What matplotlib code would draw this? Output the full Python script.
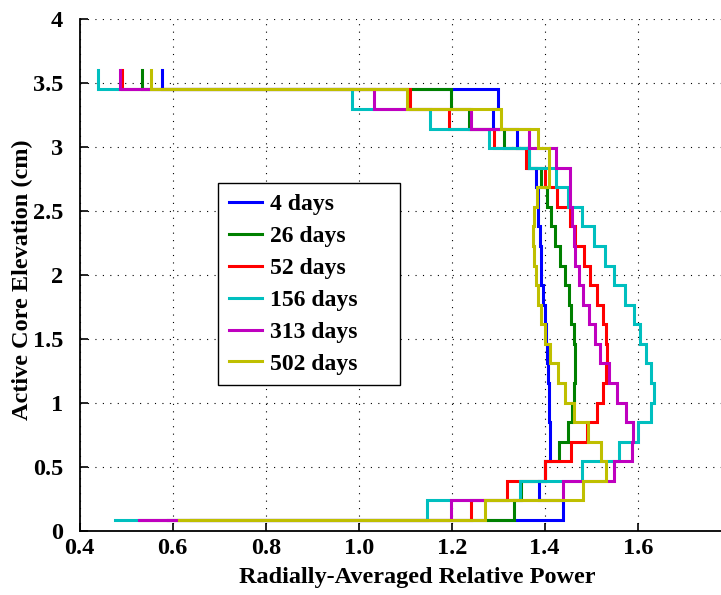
import numpy as np
import matplotlib
matplotlib.use("Agg")
import matplotlib.pyplot as plt

# Elevation mesh edges (cm), top to bottom
elev_edges = [3.600, 3.447, 3.294, 3.141, 2.989, 2.836, 2.683, 2.530, 2.377, 2.224,
              2.071, 1.918, 1.766, 1.613, 1.460, 1.307, 1.154, 1.001, 0.848, 0.695,
              0.542, 0.390, 0.237, 0.084]

labels = ["4 days", "26 days", "52 days", "156 days", "313 days", "502 days"]

p_4 = [0.578, 1.300, 1.289, 1.340, 1.362, 1.381, 1.385, 1.386, 1.389, 1.391, 1.393, 1.397,
       1.401, 1.403, 1.406, 1.408, 1.409, 1.410, 1.411, 1.411, 1.400, 1.388, 1.440, 0.640]
p_26 = [0.533, 1.198, 1.238, 1.313, 1.367, 1.391, 1.404, 1.413, 1.423, 1.433, 1.444, 1.452,
        1.457, 1.462, 1.465, 1.465, 1.462, 1.459, 1.451, 1.430, 1.400, 1.350, 1.335, 0.590]
p_52 = [0.491, 1.110, 1.195, 1.292, 1.360, 1.401, 1.427, 1.454, 1.465, 1.484, 1.497, 1.513,
        1.526, 1.532, 1.534, 1.532, 1.525, 1.512, 1.492, 1.457, 1.401, 1.318, 1.241, 0.530]
p_156 = [0.440, 0.985, 1.153, 1.281, 1.367, 1.424, 1.451, 1.480, 1.505, 1.529, 1.550, 1.572,
         1.591, 1.605, 1.618, 1.629, 1.635, 1.628, 1.601, 1.560, 1.480, 1.347, 1.146, 0.476]
p_313 = [0.486, 1.033, 1.241, 1.366, 1.425, 1.454, 1.455, 1.458, 1.463, 1.466, 1.473, 1.482,
         1.495, 1.508, 1.520, 1.538, 1.555, 1.575, 1.589, 1.587, 1.550, 1.440, 1.199, 0.528]
p_502 = [0.553, 1.104, 1.305, 1.386, 1.410, 1.410, 1.384, 1.378, 1.374, 1.376, 1.381, 1.385,
         1.392, 1.401, 1.412, 1.428, 1.443, 1.463, 1.494, 1.521, 1.532, 1.483, 1.272, 0.614]

colors = [(0, 0, 1), (0, 0.5, 0), (1, 0, 0), (0, 0.75, 0.75), (0.75, 0, 0.75), (0.75, 0.75, 0)]

xticks = [0.4, 0.6, 0.8, 1.0, 1.2, 1.4, 1.6]
yticks = [0, 0.5, 1, 1.5, 2, 2.5, 3, 3.5, 4]


def vstairs(p, z):
    xs, ys = [], []
    for i in range(len(p) - 1):
        xs += [p[i], p[i]]
        ys += [z[i], z[i + 1]]
    xs.append(p[-1])
    ys.append(z[-1])
    return xs, ys


plt.rcParams['font.family'] = ['Liberation Serif', 'DejaVu Serif']
plt.rcParams['font.weight'] = 'bold'

fig = plt.figure(figsize=(7.21, 5.95), dpi=100)
W, H = 721, 595
x0, x1 = 79.7, 79.7 + 1.4 * 465
y0, y1 = 530.7, 18.7
ax = fig.add_axes([x0 / W, (H - y0) / H, (x1 - x0) / W, (y0 - y1) / H])

series = [p_4, p_26, p_52, p_156, p_313, p_502]
for p, c, lab in zip(series, colors, labels):
    xs, ys = vstairs(p, elev_edges)
    ax.plot(xs, ys, color=c, lw=2.2, label=lab, solid_joinstyle='miter')

ax.set_xlim(0.4, 1.8)
ax.set_ylim(0, 4)
ax.set_xticks(xticks)
ax.set_xticklabels([f"{t:.1f}" for t in xticks])
ax.set_yticks(yticks)
ax.set_yticklabels([f"{t:g}" for t in yticks])
ax.grid(True, linestyle=(0, (1, 5.7)), color='black', linewidth=0.8)
ax.tick_params(direction='in', length=6, width=1.2, labelsize=17.5)
ax.tick_params(axis='y', pad=12)
ax.tick_params(axis='x', pad=5)
for s in ['top', 'right']:
    ax.spines[s].set_visible(False)
for s in ['left', 'bottom']:
    ax.spines[s].set_linewidth(1.3)

ax.set_xlabel("Radially-Averaged Relative Power", fontsize=17.5, fontweight='bold')
ax.set_ylabel("Active Core Elevation (cm)", fontsize=17.5, fontweight='bold')
ax.xaxis.set_label_coords((417 - x0) / (x1 - x0), -(578 - y0) / (y0 - y1), transform=ax.transAxes)
ax.xaxis.label.set_va('center')
ax.yaxis.set_label_coords(-(x0 - 22) / (x1 - x0), (y0 - 280) / (y0 - y1), transform=ax.transAxes)
ax.yaxis.label.set_va('center')

lx = (218 - x0) / (x1 - x0)
ly_top = (y0 - 183) / (y0 - y1)
lw_ax = (400 - 218) / (x1 - x0)
leg = ax.legend(loc='upper left', bbox_to_anchor=(lx, ly_top - 0.5, lw_ax, 0.5), mode='expand',
                borderaxespad=0, fancybox=False, framealpha=1, edgecolor='black',
                prop={'family': 'Liberation Serif', 'weight': 'bold', 'size': 17},
                handlelength=1.4, handletextpad=0.35, labelspacing=0.44, borderpad=0.45)
leg.get_frame().set_linewidth(1.0)

fig.savefig("out.png", dpi=100)
